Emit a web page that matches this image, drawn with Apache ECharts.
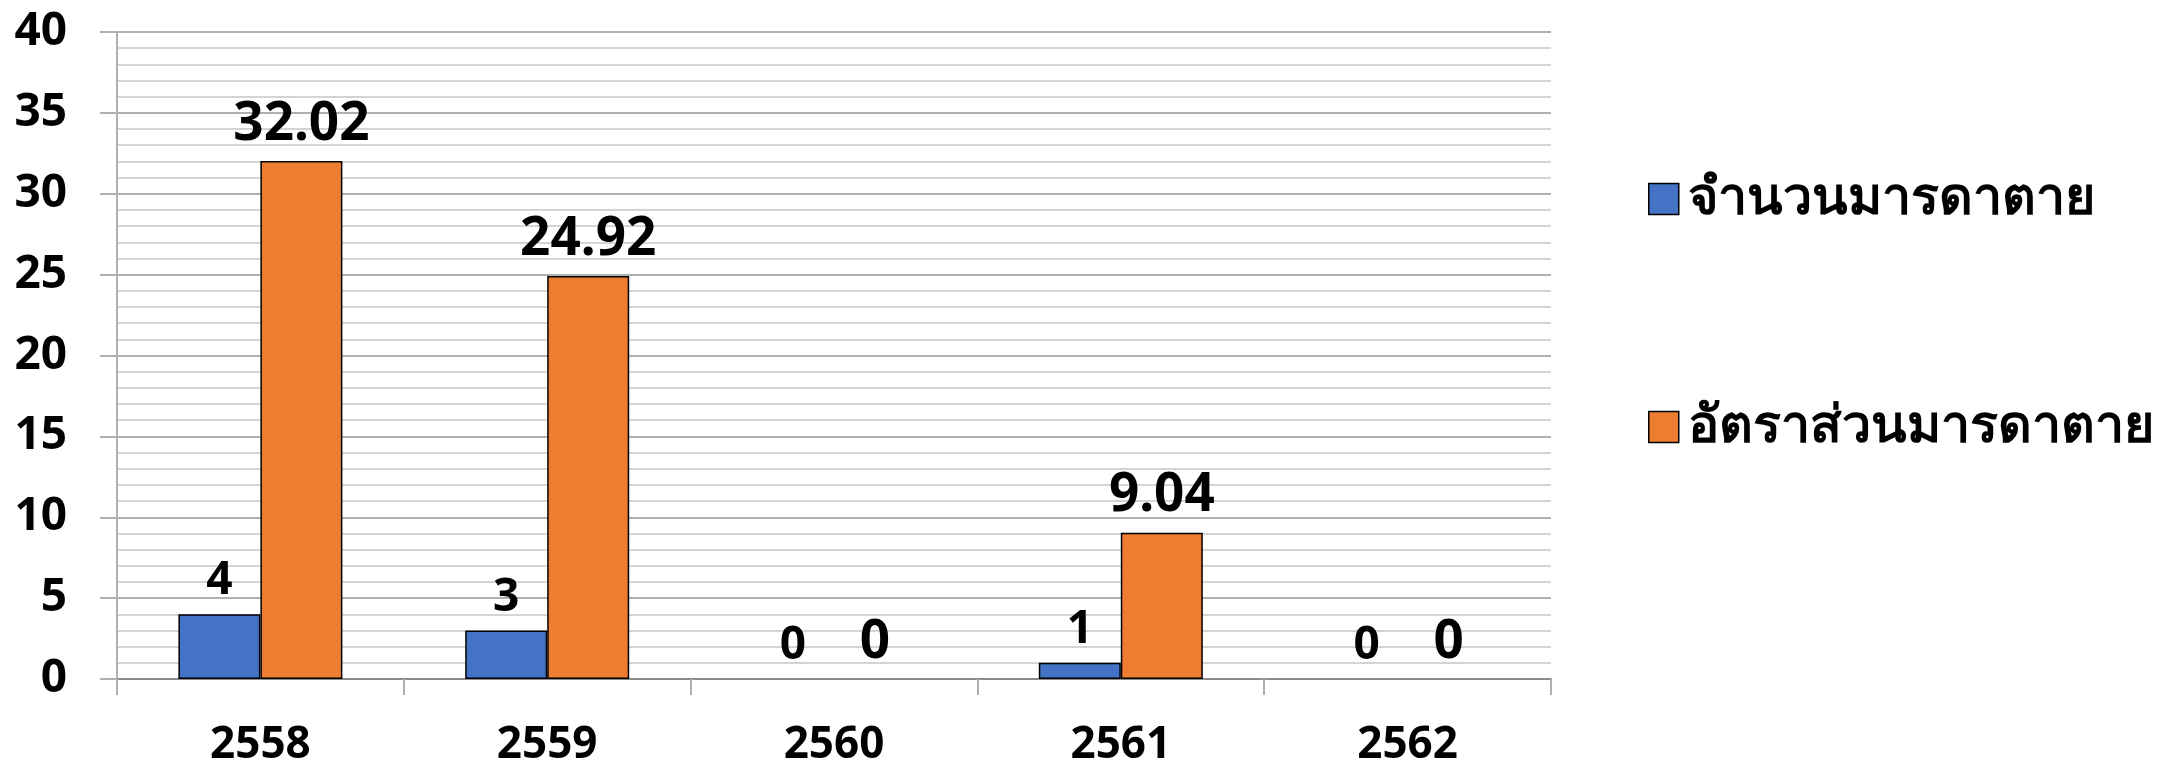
<!DOCTYPE html>
<html>
<head>
<meta charset="utf-8">
<script src="https://cdn.jsdelivr.net/npm/echarts@6/dist/echarts.min.js"></script>
<style>
  html, body { margin: 0; padding: 0; background: #ffffff; }
  #chart { width: 2164px; height: 762px; }
</style>
</head>
<body>
<div id="chart"></div>
<script>
// Years (Buddhist Era) on the category axis
const years = ['2558', '2559', '2560', '2561', '2562'];
// Maternal deaths (count)
const deaths = [4, 3, 0, 1, 0];
// Maternal mortality ratio
const ratio = [32.02, 24.92, 0, 9.04, 0];
// Series names
const seriesNames = ['จำนวนมารดาตาย', 'อัตราส่วนมารดาตาย'];

const FONT = '"Noto Sans", "Open Sans", sans-serif';

// Zero-height bars get no outline so only their label remains visible
function toBarData(values) {
  return values.map(v => v === 0 ? { value: v, itemStyle: { borderWidth: 0 } } : v);
}

const chart = echarts.init(document.getElementById('chart'), null, { renderer: 'canvas' });

chart.setOption({
  animation: false,
  backgroundColor: '#ffffff',
  textStyle: { fontFamily: FONT },
  grid: {
    left: 117, right: 613, top: 32, bottom: 83,
    containLabel: false,
    outerBoundsMode: 'none'
  },
  legend: {
    orient: 'vertical',
    left: 1643,
    top: 168,
    itemWidth: 30,
    itemHeight: 31,
    itemGap: 176,
    icon: 'rect',
    itemStyle: { borderColor: '#000000', borderWidth: 1.5 },
    textStyle: { fontFamily: FONT, fontSize: 52, fontWeight: 'bold', color: '#000000', padding: [0, 0, 0, 4] },
    data: seriesNames
  },
  xAxis: {
    type: 'category',
    data: years,
    boundaryGap: true,
    axisLine: { show: true, lineStyle: { color: '#8c8c8c', width: 2 } },
    axisTick: { show: true, length: 16, inside: false, lineStyle: { color: '#b0b0b0', width: 2 } },
    axisLabel: { margin: 44, color: '#000000', fontFamily: FONT, fontSize: 44, fontWeight: 'bold' },
    splitLine: { show: false }
  },
  yAxis: {
    type: 'value',
    min: 0,
    max: 40,
    interval: 5,
    axisLine: { show: true, lineStyle: { color: '#b0b0b0', width: 2 } },
    axisTick: { show: true, length: 17, inside: false, lineStyle: { color: '#b0b0b0', width: 2 } },
    axisLabel: { margin: 50, color: '#000000', fontFamily: FONT, fontSize: 46, fontWeight: 'bold' },
    splitLine: { show: true, lineStyle: { color: '#b0b0b0', width: 2 } },
    minorTick: { show: false, splitNumber: 5 },
    minorSplitLine: { show: true, lineStyle: { color: '#d4d4d4', width: 2 } }
  },
  series: [
    {
      name: seriesNames[0],
      type: 'bar',
      data: toBarData(deaths),
      barWidth: 82,
      barGap: '0%',
      itemStyle: { color: '#4472C4', borderColor: '#000000', borderWidth: 1.5 },
      label: {
        show: true,
        position: 'top',
        distance: 10,
        color: '#000000',
        fontFamily: FONT,
        fontSize: 46,
        fontWeight: 'bold'
      }
    },
    {
      name: seriesNames[1],
      type: 'bar',
      data: toBarData(ratio),
      barWidth: 82,
      barGap: '0%',
      itemStyle: { color: '#ED7D31', borderColor: '#000000', borderWidth: 1.5 },
      label: {
        show: true,
        position: 'top',
        distance: 10,
        color: '#000000',
        fontFamily: FONT,
        fontSize: 53,
        fontWeight: 'bold'
      }
    }
  ]
});
</script>
</body>
</html>
